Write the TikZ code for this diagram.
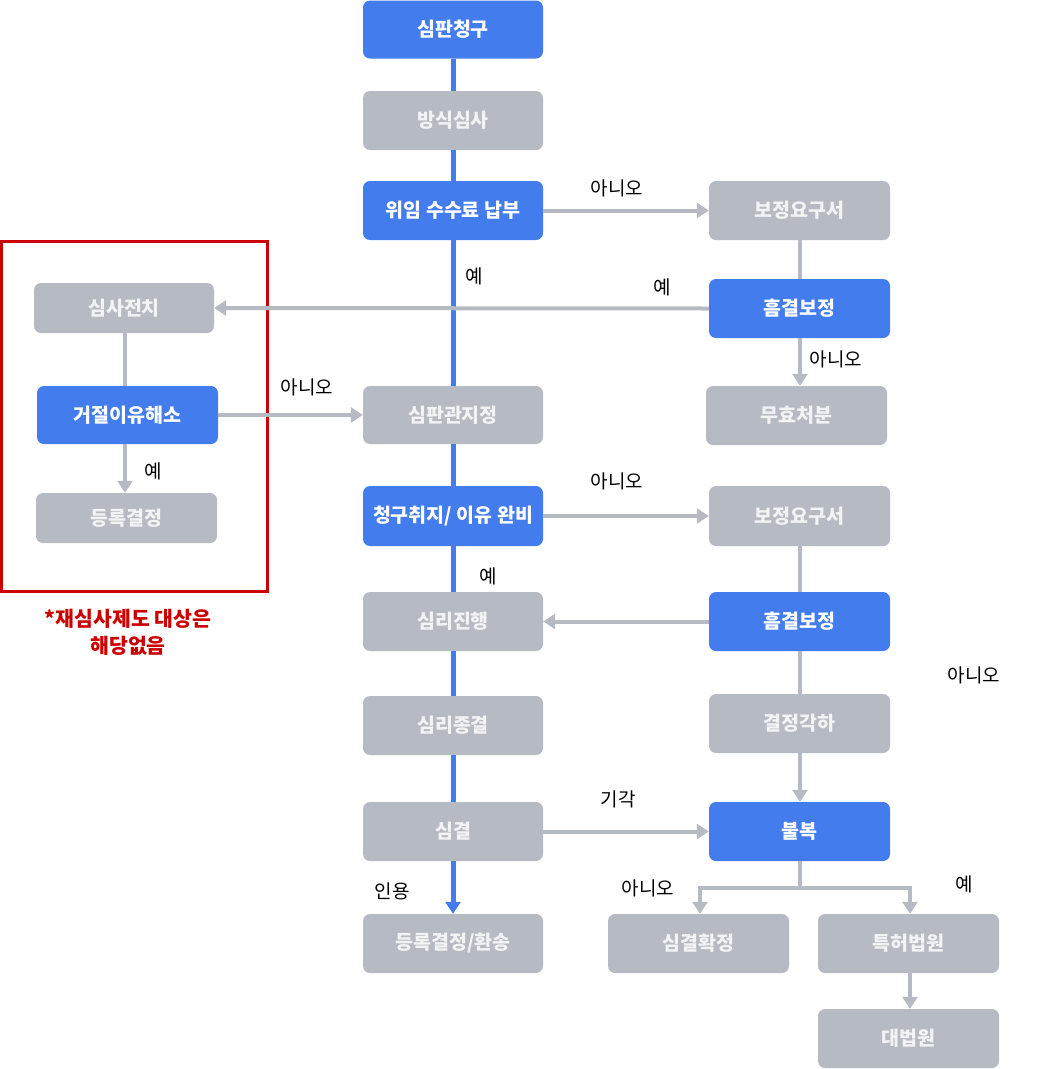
\documentclass[tikz,border=0pt]{standalone}
\usepackage{fontspec}
\setmainfont{Noto Sans CJK KR}
\usetikzlibrary{arrows.meta}
\definecolor{bblue}{HTML}{437CEC}
\definecolor{bgray}{HTML}{B6BBC3}
\definecolor{rred}{HTML}{CC0000}
\definecolor{gtext}{HTML}{F2F3F5}
\tikzset{
  boxbase/.style={rounded corners=7pt, inner sep=0pt, font=\fontsize{19.5}{21}\selectfont\bfseries},
  bluebox/.style={boxbase, fill=bblue, text=white},
  graybox/.style={boxbase, fill=bgray, text=gtext},
  gline/.style={draw=bgray, line width=4pt},
  garrow/.style={gline, -{Triangle[length=12pt,width=15pt]}},
  bline/.style={draw=bblue, line width=5pt},
  barrow/.style={bline, -{Triangle[length=12pt,width=15pt]}},
  lbl/.style={font=\fontsize{19}{21}\selectfont, text=black, inner sep=0pt},
  redlbl/.style={font=\fontsize{20.5}{27}\selectfont\bfseries, text=rred, align=center, inner sep=0pt}
}
\begin{document}
\begin{tikzpicture}[x=1pt,y=-1pt]
\useasboundingbox (0,0) rectangle (1064,1069);
% central column
\node[bluebox, minimum width=180pt, minimum height=58pt] (n1) at (453,29.5) {심판청구};
\node[graybox, minimum width=180pt, minimum height=59pt] (n2) at (453,120.5) {방식심사};
\node[bluebox, minimum width=180pt, minimum height=59pt] (n3) at (453,210.5) {위임 수수료 납부};
\node[graybox, minimum width=180pt, minimum height=58pt] (n4) at (453,415) {심판관지정};
\node[bluebox, minimum width=180pt, minimum height=60pt] (n5) at (453,516) {청구취지/ 이유 완비};
\node[graybox, minimum width=180pt, minimum height=59pt] (n6) at (453,621.5) {심리진행};
\node[graybox, minimum width=180pt, minimum height=59pt] (n7) at (453,725.5) {심리종결};
\node[graybox, minimum width=180pt, minimum height=59pt] (n8) at (453,831.5) {심결};
\node[graybox, minimum width=180pt, minimum height=59pt] (n9) at (453,943.5) {등록결정/환송};
% right column
\node[graybox, minimum width=181pt, minimum height=59pt] (r1) at (799.5,210.5) {보정요구서};
\node[bluebox, minimum width=181pt, minimum height=59pt] (r2) at (799.5,308.5) {흠결보정};
\node[graybox, minimum width=181pt, minimum height=59pt] (r3) at (796.5,415.5) {무효처분};
\node[graybox, minimum width=181pt, minimum height=60pt] (r4) at (799.5,516) {보정요구서};
\node[bluebox, minimum width=181pt, minimum height=59pt] (r5) at (799.5,621.5) {흠결보정};
\node[graybox, minimum width=181pt, minimum height=59pt] (r6) at (799.5,723.5) {결정각하};
\node[bluebox, minimum width=181pt, minimum height=59pt] (r7) at (799.5,831.5) {불복};
% bottom
\node[graybox, minimum width=181pt, minimum height=59pt] (b1) at (698.5,943.5) {심결확정};
\node[graybox, minimum width=181pt, minimum height=59pt] (b2) at (908.5,943.5) {특허법원};
\node[graybox, minimum width=181pt, minimum height=59pt] (b3) at (908.5,1038.5) {대법원};
% left
\node[graybox, minimum width=180pt, minimum height=50pt] (l1) at (124,308) {심사전치};
\node[bluebox, minimum width=181pt, minimum height=58pt] (l2) at (127.5,415) {거절이유해소};
\node[graybox, minimum width=181pt, minimum height=50pt] (l3) at (126.5,518) {등록결정};
\draw[rred, line width=3pt] (1.5,241.5) rectangle (267.5,591.5);
\node[redlbl] (note) at (128,632) {*재심사제도 대상은\\해당없음};
% central blue line
\draw[bline] (n1.south) -- (n2.north);
\draw[bline] (n2.south) -- (n3.north);
\draw[bline] (n3.south) -- (n4.north);
\draw[bline] (n4.south) -- (n5.north);
\draw[bline] (n5.south) -- (n6.north);
\draw[bline] (n6.south) -- (n7.north);
\draw[bline] (n7.south) -- (n8.north);
\draw[barrow] (n8.south) -- (n9.north);
% gray connectors
\draw[garrow] (n3.east) -- (r1.west);
\draw[gline] (r1.south -| 800,0) -- (r2.north -| 800,0);
\draw[garrow] (r2.west) -- (l1.east);
\draw[garrow] (r2.south -| 800,0) -- (r3.north -| 800,0);
\draw[gline] (l1.south -| 125,0) -- (l2.north -| 125,0);
\draw[garrow] (l2.south -| 125,0) -- (l3.north -| 125,0);
\draw[garrow] (l2.east) -- (n4.west);
\draw[garrow] (n5.east) -- (r4.west);
\draw[gline] (r4.south -| 800,0) -- (r5.north -| 800,0);
\draw[garrow] (r5.west) -- (n6.east);
\draw[gline] (r5.south -| 800,0) -- (r6.north -| 800,0);
\draw[garrow] (r6.south -| 800,0) -- (r7.north -| 800,0);
\draw[garrow] (n8.east) -- (r7.west);
\coordinate (split) at (800,888);
\draw[gline] (r7.south -| 800,0) -- (split);
\draw[garrow] (split) -- (700,888) -- (b1.north -| 700,0);
\draw[garrow] (split) -- (910,888) -- (b2.north -| 910,0);
\draw[garrow] (b2.south -| 910,0) -- (b3.north -| 910,0);
% labels
\node[lbl] at (617,188) {아니오};
\node[lbl] at (662,287) {예};
\node[lbl] at (836,359) {아니오};
\node[lbl] at (474,276) {예};
\node[lbl] at (153,471) {예};
\node[lbl] at (307,387) {아니오};
\node[lbl] at (617,481) {아니오};
\node[lbl] at (488,576) {예};
\node[lbl] at (974,675) {아니오};
\node[lbl] at (618,799) {기각};
\node[lbl] at (392,891) {인용};
\node[lbl] at (648,888) {아니오};
\node[lbl] at (964,884) {예};
\end{tikzpicture}
\end{document}
